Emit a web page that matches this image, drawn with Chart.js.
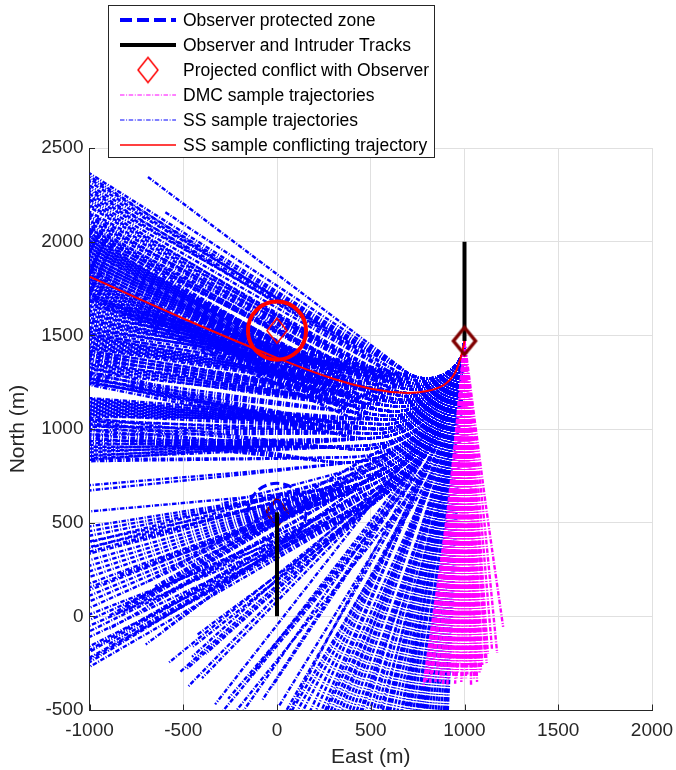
<!DOCTYPE html>
<html>
<head>
<meta charset="utf-8">
<script src="https://cdn.jsdelivr.net/npm/chart.js@4.4.0/dist/chart.umd.min.js"></script>
<style>
  html, body { margin: 0; padding: 0; background: #fff; }
  canvas { display: block; }
</style>
</head>
<body>
<canvas id="chart" width="676" height="770"></canvas>
<script>
// Axis ticks
const xTicks = [-1000, -500, 0, 500, 1000, 1500, 2000];
const yTicks = [-500, 0, 500, 1000, 1500, 2000, 2500];

// Aircraft tracks and zones (metres)
const intruderTrack = [[1000, 2000], [1000, 1470]];
const observerTrack = [[0, 0], [0, 555]];
const observerPos = [0, 555];
const conflictPos = [0, 1525];
const zoneRadius = 155;

// SS sample conflicting trajectory
const conflictTraj = [[1000, 1470], [985, 1400], [950, 1300], [890, 1235], [800, 1203], [680, 1193],
  [500, 1215], [300, 1268], [0, 1380], [-500, 1590], [-1000, 1813]];

// SS sample trajectories: all start at the intruder, follow a turn arc, then run on to an end point
const ssStart = [1000, 1470];
const arcA = [[988, 1402], [953, 1341], [900, 1297], [835, 1273], [765, 1273], [700, 1297], [659, 1329]];
const arcA3 = [[987, 1396], [950, 1332], [893, 1284], [822, 1258], [748, 1258], [677, 1284]];
const arcA2 = [[986, 1391], [946, 1322], [885, 1271], [810, 1243], [730, 1243], [655, 1271], [607, 1307]];
const arcA4 = [[985, 1386], [943, 1313], [878, 1258], [798, 1229], [712, 1229], [632, 1258]];
const arcB = [[984, 1381], [939, 1303], [870, 1245], [785, 1214], [695, 1214], [610, 1245]];
const arcB3 = [[983, 1374], [934, 1290], [860, 1228], [769, 1194], [671, 1194], [580, 1228]];
const arcB2 = [[982, 1369], [931, 1280], [853, 1215], [756, 1179], [654, 1179], [558, 1215]];
const arcB4 = [[981, 1362], [926, 1268], [843, 1197], [740, 1160], [630, 1160], [528, 1197]];
const arcC = [[980, 1357], [923, 1258], [835, 1184], [727, 1145], [613, 1145], [505, 1184]];
const arcC3 = [[979, 1350], [918, 1245], [825, 1167], [711, 1125], [589, 1125], [502, 1153]];
const arcC2 = [[977, 1342], [912, 1229], [813, 1145], [690, 1101], [592, 1096], [497, 1118]];
const arcC4 = [[976, 1333], [906, 1213], [800, 1124], [669, 1076], [565, 1072], [463, 1094]];
const arcD = [[975, 1326], [902, 1200], [790, 1106], [653, 1056], [543, 1052], [436, 1075]];
const arcD3 = [[973, 1318], [896, 1184], [777, 1085], [632, 1032], [516, 1027], [440, 1040]];
const arcD2 = [[972, 1309], [890, 1168], [765, 1063], [652, 1016], [530, 1000], [408, 1016]];
const arcD4 = [[970, 1301], [884, 1152], [752, 1041], [591, 983], [462, 977], [377, 992]];
const arcE = [[969, 1292], [878, 1136], [740, 1020], [615, 968], [480, 950], [345, 968]];
const arcE2 = [[965, 1272], [864, 1097], [753, 995], [618, 925], [471, 892], [319, 899]];
const arcE3 = [[981, 1325], [925, 1190], [836, 1074], [720, 985], [585, 929], [440, 910]];
const arcF = [[961, 1248], [848, 1052], [723, 938], [572, 859], [407, 823], [237, 830]];
const arcF3 = [[979, 1310], [917, 1160], [818, 1032], [690, 933], [540, 871], [380, 850]];
const arcF4 = [[977, 1294], [909, 1130], [801, 989], [660, 881], [496, 813]];
const arcF2 = [[976, 1284], [904, 1110], [789, 961], [640, 846], [466, 775], [280, 750]];
const arcG3 = [[974, 1273], [898, 1090], [777, 933], [620, 812], [437, 736]];
const arcG = [[973, 1263], [893, 1070], [766, 904], [600, 777], [407, 697], [200, 670]];
const arcG4 = [[971, 1253], [887, 1050], [754, 876], [580, 743], [447, 681]];
const arcG2 = [[980, 1283], [922, 1104], [828, 941], [702, 801], [550, 691]];
const arcH3 = [[979, 1272], [918, 1084], [819, 912], [686, 764], [525, 647]];
const arcH = [[978, 1262], [914, 1063], [809, 882], [669, 727], [500, 604]];
const arcH2 = [[983, 1270], [931, 1077], [846, 895], [731, 731]];
const arcI = [[980, 1244], [922, 1025], [826, 820], [696, 634]];
const arcI2 = [[985, 1261], [942, 1056], [871, 860], [772, 675]];
const arcJ = [[983, 1234], [934, 1001], [853, 778]];
const arcJ2 = [[985, 1226], [941, 986], [867, 753]];
const arcK = [[987, 1230], [950, 992], [887, 759]];
const arcK2 = [[989, 1217], [956, 966], [901, 719]];
const arcL = [[987, 1165], [947, 862]];

// [arc points followed, end x, end y]
const endsA = [[7, -688, 2345], [7, -597, 2158],
  [6, -1000, 2365], [6, -1000, 2335], [6, -1000, 2300], [6, -1000, 2270], [6, -1000, 2240],
  [5, -1000, 1680], [5, -1000, 1655], [5, -1000, 1630], [5, -1000, 1605], [5, -1000, 1580], [5, -1000, 1555], [5, -1000, 1530]];
const endsA3 = [[6, -1000, 2320], [6, -1000, 2255], [5, -1000, 1700], [5, -1000, 1612], [5, -1000, 1535]];
const endsA2 = [[6, -1000, 2350], [6, -1000, 2285], [6, -1000, 2225],
  [5, -1000, 1690], [5, -1000, 1668], [5, -1000, 1643], [5, -1000, 1618], [5, -1000, 1593], [5, -1000, 1568],
  [5, -1000, 1543], [5, -1000, 1520]];
const endsA4 = [[6, -1000, 2195], [6, -1000, 2160], [6, -1000, 2112], [5, -1000, 1660], [5, -1000, 1580], [5, -1000, 1505]];
const endsB = [[6, -1000, 2212], [6, -1000, 2185], [6, -1000, 2150], [6, -1000, 2125], [6, -1000, 2100], [6, -1000, 2075],
  [5, -1000, 1510], [5, -1000, 1490], [5, -1000, 1465], [5, -1000, 1440]];
const endsB3 = [[6, -1000, 2068], [6, -1000, 2045], [6, -1000, 2025], [5, -1000, 1485], [5, -1000, 1458], [5, -1000, 1435]];
const endsB2 = [[6, -1000, 2138], [6, -1000, 2088], [6, -1000, 2062], [6, -1000, 2050],
  [5, -1000, 1500], [5, -1000, 1478], [5, -1000, 1452], [5, -1000, 1430]];
const endsB4 = [[6, -1000, 2005], [6, -1000, 1985], [6, -1000, 1965], [6, -1000, 1945],
  [5, -1000, 1415], [5, -1000, 1393], [5, -1000, 1368]];
const endsC = [[6, -1000, 2040], [6, -1000, 2020], [6, -1000, 2000], [6, -1000, 1980], [6, -1000, 1960], [6, -1000, 1940],
  [6, -1000, 1920], [6, -1000, 1900], [6, -1000, 1880],
  [5, -1000, 1420], [5, -1000, 1400], [5, -1000, 1375], [5, -1000, 1350]];
const endsC3 = [[6, -1000, 1925], [6, -1000, 1905], [6, -1000, 1885], [6, -1000, 1865], [6, -1000, 1845],
  [5, -1000, 1345], [5, -1000, 1325], [5, -1000, 1300]];
const endsC2 = [[6, -1000, 2030], [6, -1000, 2010], [6, -1000, 1990], [6, -1000, 1970], [6, -1000, 1950], [6, -1000, 1930],
  [6, -1000, 1910], [6, -1000, 1890], [6, -1000, 1870], [6, -1000, 1850], [6, -1000, 1830], [6, -1000, 1808],
  [6, -1000, 1785], [6, -1000, 1762], [6, -1000, 1738], [6, -1000, 1712],
  [5, -1000, 1410], [5, -1000, 1388], [5, -1000, 1362], [5, -1000, 1340], [5, -1000, 1318]];
const endsC4 = [[6, -1000, 1825], [6, -1000, 1800], [6, -1000, 1780], [6, -1000, 1755], [6, -1000, 1730],
  [5, -1000, 1285], [5, -1000, 1262], [5, -1000, 1240]];
const endsD = [[6, -1000, 1860], [6, -1000, 1840], [6, -1000, 1820], [6, -1000, 1795], [6, -1000, 1775], [6, -1000, 1750],
  [6, -1000, 1725], [6, -1000, 1700],
  [5, -1000, 1165], [5, -1000, 1145], [5, -1000, 1125], [5, -1000, 1105], [5, -1000, 1085], [5, -1000, 1065]];
const endsD3 = [[6, -1000, 1718], [6, -1000, 1690], [5, -1000, 1160], [5, -1000, 1140], [5, -1000, 1120],
  [5, -1000, 1100], [5, -1000, 1080]];
const endsD2 = [[6, -1000, 1295], [6, -1000, 1270], [6, -1000, 1245],
  [5, -1000, 1155], [5, -1000, 1135], [5, -1000, 1115], [5, -1000, 1095], [5, -1000, 1075], [5, -1000, 1040], [5, -1000, 1012]];
const endsD4 = [[6, -1000, 1270], [6, -1000, 1250], [5, -1000, 1050], [5, -1000, 1020], [5, -1000, 995], [5, -1000, 970]];
const endsE = [[6, -1000, 1330], [6, -1000, 1305], [6, -1000, 1280], [6, -1000, 1255], [6, -1000, 1235],
  [5, -1000, 935], [5, -1000, 915], [5, -1000, 895], [5, -1000, 875], [5, -1000, 855], [5, -1000, 835]];
const endsE2 = [[6, -1000, 1060], [6, -1000, 1030], [6, -1000, 990], [6, -1000, 965], [6, -1000, 945], [6, -1000, 925]];
const endsE3 = [[6, -1000, 905], [6, -1000, 885], [6, -1000, 862], [6, -1000, 845], [4, -560, 250], [4, -700, 180]];
const endsF = [[6, -1000, 1050], [6, -1000, 1025], [6, -1000, 1000], [6, -1000, 975], [6, -1000, 955],
  [5, -1000, 700], [5, -1000, 672], [3, -864, 8], [2, -330, -470]];
const endsF3 = [[6, -1000, 840], [6, -1000, 828], [4, -800, 60], [4, -650, 160], [4, -900, 0]];
const endsF4 = [[4, -820, 20], [4, -700, 100], [4, -560, 180], [5, -300, 600]];
const endsF2 = [[5, -1000, 395], [5, -1000, 365], [4, -600, -70], [4, -500, 0], [4, -700, -150]];
const endsG3 = [[4, -700, 50], [4, -900, -70], [4, -600, 120],
  [5, -1000, 345], [5, -700, 420], [5, -500, 480], [5, -820, 390]];
const endsG = [[6, -1000, 560], [6, -1000, 480], [6, -1000, 455], [6, -1000, 430],
  [5, -1000, 400], [5, -1000, 370], [5, -1000, 335], [5, -1000, 300], [5, -1000, 270], [5, -1000, 240], [5, -1000, 210],
  [4, -1000, 175], [4, -1000, 140], [4, -1000, 110], [4, -1000, 80], [4, -1000, 45],
  [3, -475, -376], [3, -453, -216], [2, 60, -520]];
const endsG4 = [[4, -1000, -180], [4, -750, -40], [4, -600, 40],
  [5, -1000, 155], [5, -850, 220], [5, -650, 300], [5, -400, 390]];
const endsG2 = [[5, -1000, -20], [5, -1000, -80], [5, -1000, -190], [5, -1000, -245], [5, -820, 60],
  [4, -520, -300], [4, -400, -330], [4, -580, -250],
  [3, -190, -520], [3, -80, -450], [3, -150, -330], [2, 200, -520], [2, 250, -520]];
const endsH3 = [[4, -480, -280], [4, -380, -200], [5, -1000, -230], [5, -900, -150], [5, -750, -80], [5, -600, 0]];
const endsH = [[5, -1000, 10], [5, -1000, -50], [5, -1000, -110], [5, -1000, -160], [5, -1000, -220], [5, -1000, -270],
  [4, -448, -162], [4, -427, -100], [4, -155, 72], [3, -117, -285], [3, -27, -376], [2, 170, -520], [2, 230, -520]];
const endsH2 = [[4, -300, -520], [4, -260, -440], [3, 40, -520], [3, 10, -480], [2, 340, -520], [2, 380, -520],
  [1, 660, -520], [1, 690, -520]];
const endsI = [[4, -230, -520], [3, 100, -520], [3, 130, -520], [2, 360, -520], [2, 400, -520], [1, 680, -520], [1, 710, -520]];
const endsI2 = [[4, 70, -520], [3, 260, -520], [3, 300, -520], [2, 470, -520], [2, 510, -520], [1, 725, -520], [1, 750, -520]];
const endsJ = [[3, 280, -520], [3, 320, -520], [2, 530, -520], [2, 560, -520], [1, 780, -520], [1, 800, -520]];
const endsJ2 = [[3, 420, -520], [3, 440, -520], [2, 580, -520], [2, 590, -520], [1, 790, -520], [1, 815, -520]];
const endsK = [[3, 450, -520], [3, 490, -520], [2, 600, -520], [2, 620, -520], [2, 640, -520], [1, 830, -520], [1, 860, -520]];
const endsK2 = [[3, 545, -520], [2, 665, -520], [2, 700, -520], [1, 845, -520], [1, 875, -520], [1, 900, -520]];
const endsL = [[2, 740, -520], [2, 760, -520], [2, 770, -520], [1, 890, -520], [1, 910, -520]];

// DMC sample trajectories: x where each crosses North = 600 m, and its end point
const dmcMidY = 600;
const dmcMidX = [914, 918, 922, 925, 928, 931, 934, 937, 940, 942, 945, 948, 951, 955, 958, 961, 964, 967, 971, 974,
  977, 980, 983, 986, 990, 993, 996, 1000, 1004, 1008, 1014, 1018, 1022, 1028, 1032, 1033, 1039, 1044, 1048, 1052,
  1061, 1065, 1069, 1081, 1096, 1113, 1037, 1019];
const dmcEndX = [780, 790, 800, 808, 815, 822, 830, 838, 845, 852, 860, 868, 875, 885, 893, 900, 908, 915, 925, 933,
  940, 950, 958, 965, 975, 983, 990, 1000, 1008, 1015, 1025, 1033, 1040, 1050, 1058, 1060, 1070, 1080, 1088, 1095,
  1110, 1118, 1125, 1147, 1174, 1206, 1067, 1035];
const dmcEndY = [-376, -350, -340, -300, -360, -330, -300, -260, -350, -320, -280, -350, -330, -370, -260, -300, -370, -340, -280, -300,
  -320, -360, -330, -300, -250, -350, -330, -280, -330, -310, -260, -290, -300, -340, -320, -280, -240, -300, -290, -260,
  -230, -250, -200, -179, -195, -56, -350, -370];

const legendLabels = ['Observer protected zone', 'Observer and Intruder Tracks', 'Projected conflict with Observer',
  'DMC sample trajectories', 'SS sample trajectories', 'SS sample conflicting trajectory'];

const FONT = '"Liberation Sans", Arial, Helvetica, sans-serif';
const TEXT = '#262626';
const ssDash = [4.5, 1.6, 1, 1.6];

const toXY = pts => pts.map(p => ({ x: p[0], y: p[1] }));

function diamond(w, h, color, lw) {
    const c = document.createElement('canvas');
    c.width = Math.ceil(w + lw + 2);
    c.height = Math.ceil(h + lw + 2);
    const g = c.getContext('2d');
    const cx = c.width / 2, cy = c.height / 2;
    g.beginPath();
    g.moveTo(cx, cy - h / 2);
    g.lineTo(cx + w / 2, cy);
    g.lineTo(cx, cy + h / 2);
    g.lineTo(cx - w / 2, cy);
    g.closePath();
    g.strokeStyle = color;
    g.lineWidth = lw;
    g.stroke();
    return c;
}

const darkDiamond = diamond(22, 27, '#800000', 3.5);
const redDiamond = diamond(20, 25, '#ff0000', 1.5);

// Build datasets
const datasets = [];

const families = [[arcA, endsA], [arcA3, endsA3], [arcA2, endsA2], [arcA4, endsA4],
  [arcB, endsB], [arcB3, endsB3], [arcB2, endsB2], [arcB4, endsB4],
  [arcC, endsC], [arcC3, endsC3], [arcC2, endsC2], [arcC4, endsC4],
  [arcD, endsD], [arcD3, endsD3], [arcD2, endsD2], [arcD4, endsD4],
  [arcE, endsE], [arcE2, endsE2], [arcE3, endsE3], [arcF, endsF], [arcF3, endsF3], [arcF4, endsF4], [arcF2, endsF2],
  [arcG3, endsG3], [arcG, endsG], [arcG4, endsG4], [arcG2, endsG2], [arcH3, endsH3], [arcH, endsH], [arcH2, endsH2],
  [arcI, endsI], [arcI2, endsI2], [arcJ, endsJ], [arcJ2, endsJ2], [arcK, endsK], [arcK2, endsK2], [arcL, endsL]];
families.forEach(([arc, ends]) => {
    ends.forEach(([k, ex, ey]) => {
        datasets.push({
            data: toXY([ssStart, ...arc.slice(0, k), [ex, ey]]),
            showLine: true, borderColor: '#0000ff', borderWidth: 2.4, borderDash: ssDash,
            pointRadius: 0, tension: 0.35, order: 50
        });
    });
});

dmcEndX.forEach((ex, i) => {
    datasets.push({
        data: toXY([ssStart, [dmcMidX[i], dmcMidY], [ex, dmcEndY[i]]]),
        showLine: true, borderColor: '#ff00ff', borderWidth: 2.4, borderDash: ssDash,
        pointRadius: 0, tension: 0.3, order: 30
    });
});

datasets.push({
    data: toXY([observerPos]), pointStyle: darkDiamond, pointRadius: 10, order: 60
});
datasets.push({
    data: toXY(observerTrack), showLine: true, borderColor: '#000', borderWidth: 4, pointRadius: 0, order: 40
});
datasets.push({
    data: toXY(intruderTrack), showLine: true, borderColor: '#000', borderWidth: 4, pointRadius: 0, order: 20
});
datasets.push({
    data: toXY(conflictTraj), showLine: true, borderColor: '#ff0000', borderWidth: 2, pointRadius: 0,
    tension: 0.3, order: 10
});
datasets.push({
    data: toXY([conflictPos]), pointStyle: redDiamond, pointRadius: 10, order: 5
});
datasets.push({
    data: toXY([ssStart]), pointStyle: darkDiamond, pointRadius: 10, order: 0
});

function drawZone(chart, c, color, width, dash) {
    const { ctx, scales: { x, y } } = chart;
    const cx = x.getPixelForValue(c[0]);
    const cy = y.getPixelForValue(c[1]);
    const r = x.getPixelForValue(c[0] + zoneRadius) - cx;
    ctx.save();
    ctx.beginPath();
    ctx.arc(cx, cy, r, 0, Math.PI * 2);
    ctx.strokeStyle = color;
    ctx.lineWidth = width;
    ctx.setLineDash(dash);
    ctx.stroke();
    ctx.restore();
}

function drawInnerTicks(chart) {
    const { ctx, chartArea: a, scales: { x, y } } = chart;
    ctx.save();
    ctx.strokeStyle = TEXT;
    ctx.lineWidth = 1;
    ctx.beginPath();
    xTicks.forEach(v => {
        const px = Math.round(x.getPixelForValue(v)) + 0.5;
        ctx.moveTo(px, a.bottom);
        ctx.lineTo(px, a.bottom - 5.5);
    });
    yTicks.forEach(v => {
        const py = Math.round(y.getPixelForValue(v)) + 0.5;
        ctx.moveTo(a.left, py);
        ctx.lineTo(a.left + 5.5, py);
    });
    ctx.stroke();
    ctx.restore();
}

function drawLegend(chart) {
    const ctx = chart.ctx;
    const left = 108.5, top = 5.5, w = 326, h = 152;
    const rows = [20, 45, 70, 95, 120, 145];
    const x0 = 120, x1 = 176;
    ctx.save();
    ctx.fillStyle = '#fff';
    ctx.fillRect(left, top, w, h);
    ctx.strokeStyle = TEXT;
    ctx.lineWidth = 1;
    ctx.strokeRect(left, top, w, h);

    const sample = (row, color, width, dash) => {
        ctx.beginPath();
        ctx.strokeStyle = color;
        ctx.lineWidth = width;
        ctx.setLineDash(dash);
        ctx.moveTo(x0, rows[row]);
        ctx.lineTo(x1, rows[row]);
        ctx.stroke();
    };
    sample(0, '#0000ff', 4, [12, 5]);
    sample(1, '#000', 4, []);
    sample(3, '#ff00ff', 1, ssDash);
    sample(4, '#0000ff', 1, ssDash);
    sample(5, '#ff0000', 1.5, []);
    ctx.setLineDash([]);
    ctx.drawImage(redDiamond, (x0 + x1) / 2 - redDiamond.width / 2, rows[2] - redDiamond.height / 2);

    ctx.fillStyle = '#000';
    ctx.font = '17.5px ' + FONT;
    ctx.textBaseline = 'middle';
    legendLabels.forEach((t, i) => ctx.fillText(t, 183, rows[i] + 1));
    ctx.restore();
}

const decor = {
    id: 'decor',
    beforeDatasetsDraw(chart) {
        drawZone(chart, observerPos, '#0000ff', 3, [9, 4]);
    },
    afterDatasetsDraw(chart) {
        drawZone(chart, conflictPos, '#ff0000', 4, []);
        drawInnerTicks(chart);
    },
    afterDraw(chart) {
        drawLegend(chart);
    }
};

new Chart(document.getElementById('chart'), {
    type: 'scatter',
    data: { datasets },
    plugins: [decor],
    options: {
        responsive: false,
        animation: false,
        devicePixelRatio: 1,
        events: [],
        layout: { padding: { top: 148, right: 24, bottom: 0, left: 0 } },
        plugins: { legend: { display: false }, tooltip: { enabled: false } },
        scales: {
            x: {
                type: 'linear', min: -1000, max: 2000,
                ticks: { stepSize: 500, color: TEXT, font: { family: FONT, size: 19 }, padding: 9,
                    maxRotation: 0, callback: v => String(v) },
                grid: { color: '#e0e0e0', drawTicks: false },
                border: { color: TEXT, width: 1 },
                title: { display: true, text: 'East (m)', color: TEXT, font: { family: FONT, size: 21 },
                    padding: { top: 0, bottom: 0 } },
                afterFit(s) { s.height = 60; s.paddingLeft = 0; s.paddingRight = 0; }
            },
            y: {
                type: 'linear', min: -500, max: 2500,
                ticks: { stepSize: 500, color: TEXT, font: { family: FONT, size: 19 }, padding: 6,
                    callback: v => String(v) },
                grid: { color: '#e0e0e0', drawTicks: false },
                border: { color: TEXT, width: 1 },
                title: { display: true, text: 'North (m)', color: TEXT, font: { family: FONT, size: 21 },
                    padding: { top: 6, bottom: 0 } },
                afterFit(s) { s.width = 89.5; s.paddingTop = 0; s.paddingBottom = 0; }
            }
        }
    }
});
</script>
</body>
</html>
